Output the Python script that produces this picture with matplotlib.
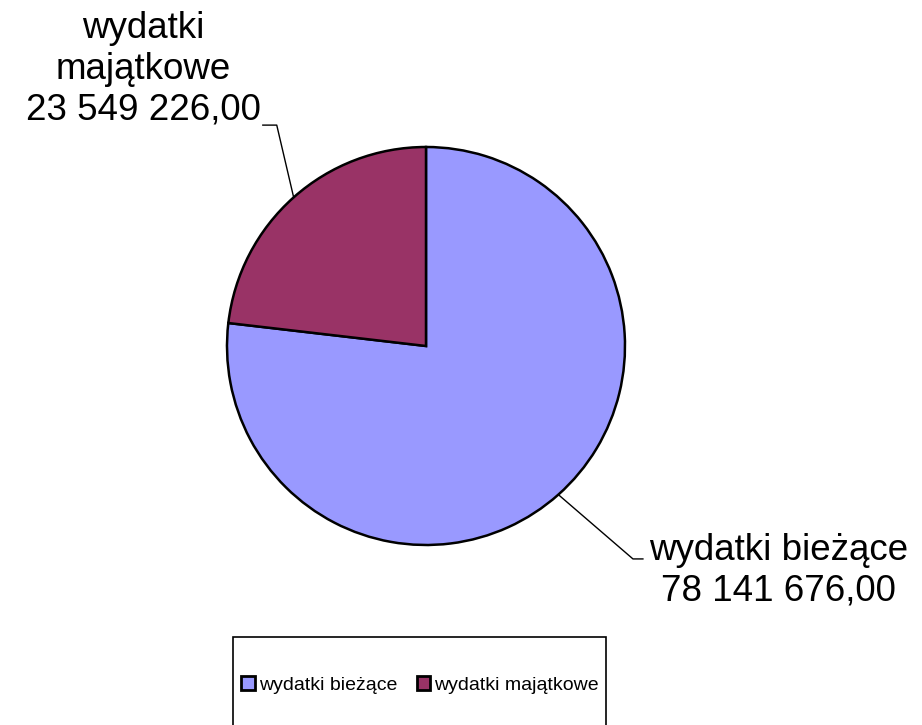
import numpy as np
import matplotlib
matplotlib.use("Agg")
import matplotlib.pyplot as plt
from matplotlib.patches import Rectangle

plt.rcParams['font.family'] = ['Liberation Sans', 'DejaVu Sans']

categories = ['wydatki bieżące', 'wydatki majątkowe']
values = [78141676.00, 23549226.00]
colors = ['#9999FF', '#993366']


def fmt(v):
    s = f"{v:,.2f}"
    return s.replace(',', ' ').replace('.', ',')


W, H = 922, 725
fig = plt.figure(figsize=(W / 100, H / 100), dpi=100)
fig.patch.set_facecolor('white')

cx, cy, r = 426, 346, 199
ax = fig.add_axes([(cx - r) / W, (H - cy - r) / H, 2 * r / W, 2 * r / H])
wedges, _ = ax.pie(values, colors=colors, startangle=90, counterclock=False,
                   radius=1, wedgeprops=dict(edgecolor='black', linewidth=1.8))
ax.set_xlim(-1, 1)
ax.set_ylim(-1, 1)
ax.set_aspect('equal')
ax.axis('off')

# leader lines + labels (offsets in pie radius units)
label_pos = [
    # elbow, end of horizontal, text anchor, ha
    ((1.04, -1.07), (1.09, -1.07), (1.12, -1.13), 'left'),
    ((-0.75, 1.11), (-0.82, 1.11), (-0.83, 1.39), 'right'),
]
for w, cat, val, (elb, end, txt, ha) in zip(wedges, categories, values, label_pos):
    ang = np.deg2rad((w.theta1 + w.theta2) / 2)
    ex, ey = np.cos(ang), np.sin(ang)
    ax.plot([ex, elb[0], end[0]], [ey, elb[1], end[1]], color='black',
            linewidth=1, clip_on=False)
    if ha == 'right':
        lbl = cat.replace(' ', '\n') + '\n' + fmt(val)
    else:
        lbl = cat + '\n' + fmt(val)
    ax.text(txt[0], txt[1], lbl, ha=ha, va='center', multialignment='center',
            fontsize=26.5, linespacing=1.2, clip_on=False)

# legend box
fig.patches.append(Rectangle((233 / W, 0 - 0.05), (606 - 233) / W, (H - 637) / H + 0.05,
                             transform=fig.transFigure, facecolor='white',
                             edgecolor='black', linewidth=1.2, zorder=0))
leg = fig.legend(wedges, categories, loc='center', bbox_to_anchor=(420 / W, (H - 685) / H),
                 ncol=2, frameon=False, fontsize=14, handlelength=0.7, handleheight=0.7,
                 handletextpad=0.2, columnspacing=1.0)
for h in leg.legend_handles:
    h.set_linewidth(2)

fig.savefig('out.png', dpi=100)
